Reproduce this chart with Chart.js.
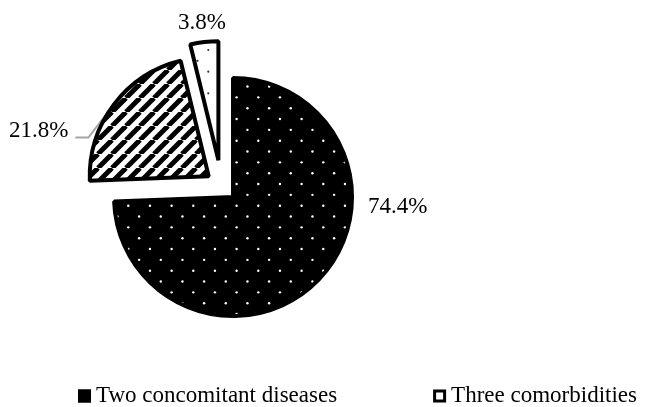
<!DOCTYPE html>
<html>
<head>
<meta charset="utf-8">
<style>
  html, body { margin: 0; padding: 0; background: #fff; }
  #wrap { width: 645px; height: 407px; position: relative; }
</style>
<script src="https://cdn.jsdelivr.net/npm/chart.js@4.4.1/dist/chart.umd.min.js"></script>
</head>
<body>
<div id="wrap"><canvas id="c" width="645" height="407"></canvas></div>
<script>
// Share of patients by number of concurrent diseases (%)
const categories = ['Two concomitant diseases', 'Three comorbidities', 'Four or more comorbidities'];
const shares = [74.4, 21.8, 3.8];
// Only the first two categories appear in the legend row
const legendCount = 2;

// Styling
const FONT = '"Liberation Serif", "Times New Roman", serif';
const sliceExplode = [16, 16, 26];          // px each slice is pulled out along its bisector
const labelPolar = [[3.5, 165], [194.9, 176], [263.2, 138.5]]; // [deg, px] from slice tip
const leaderSlices = [1];

const canvas = document.getElementById('c');
const ctx = canvas.getContext('2d');

function dotPattern(bg, fg, ox, oy, r) {
  const p = 65, step = p / 3;
  const c = document.createElement('canvas');
  c.width = p; c.height = p;
  const g = c.getContext('2d');
  g.fillStyle = bg; g.fillRect(0, 0, p, p);
  g.fillStyle = fg;
  for (let i = -1; i <= 3; i++) {
    for (let j = -1; j <= 3; j++) {
      for (const [sx, sy] of [[0, 0], [step / 2, step / 2]]) {
        const x = ox + sx + i * step, y = oy + sy + j * step;
        g.beginPath(); g.arc(x, y, r, 0, Math.PI * 2); g.fill();
      }
    }
  }
  return ctx.createPattern(c, 'repeat');
}

function stripePattern() {
  const s = 14;
  const c = document.createElement('canvas');
  c.width = s; c.height = s;
  const g = c.getContext('2d');
  g.fillStyle = '#fff'; g.fillRect(0, 0, s, s);
  g.strokeStyle = '#000'; g.lineWidth = 5;
  for (const k of [-1, 0, 1]) {
    g.beginPath(); g.moveTo(k * s, s); g.lineTo(k * s + s, 0); g.stroke();
  }
  return ctx.createPattern(c, 'repeat');
}

const fills = [
  dotPattern('#000', '#fff', 19.95, 10.7, 1.2),
  stripePattern(),
  dotPattern('#fff', '#333', 13.3, 6.67, 1.1)
];

const pctText = v => v.toFixed(1) + '%';

// Pull slices apart along their bisectors
const explodePlugin = {
  id: 'explode',
  afterDatasetUpdate(chart, args) {
    const a = chart.chartArea;
    const cx = (a.left + a.right) / 2, cy = (a.top + a.bottom) / 2;
    args.meta.data.forEach((arc, i) => {
      const mid = (arc.startAngle + arc.endAngle) / 2;
      const d = sliceExplode[i] || 0;
      arc.x = cx + Math.cos(mid) * d;
      arc.y = cy + Math.sin(mid) * d;
    });
  }
};

function labelPos(arc, i) {
  const [deg, dist] = labelPolar[i];
  const t = deg * Math.PI / 180;
  return [arc.x + Math.cos(t) * dist, arc.y + Math.sin(t) * dist];
}

// Percentage labels with leader lines
const labelPlugin = {
  id: 'sliceLabels',
  beforeDatasetsDraw(chart) {
    const c = chart.ctx;
    const arcs = chart.getDatasetMeta(0).data;
    c.save();
    c.font = '23px ' + FONT;
    c.strokeStyle = '#a6a6a6';
    c.lineWidth = 2;
    leaderSlices.forEach(i => {
      const arc = arcs[i];
      const [lx, ly] = labelPos(arc, i);
      const w = c.measureText(pctText(shares[i])).width;
      const mid = (arc.startAngle + arc.endAngle) / 2;
      const ex = arc.x + Math.cos(mid) * arc.outerRadius;
      const ey = arc.y + Math.sin(mid) * arc.outerRadius;
      const y0 = ly + 6.5;
      c.beginPath();
      c.moveTo(lx + w / 2 + 7, y0);
      c.lineTo(lx + w / 2 + 20, y0);
      c.lineTo(ex, ey);
      c.stroke();
    });
    c.restore();
  },
  afterDatasetsDraw(chart) {
    const c = chart.ctx;
    const arcs = chart.getDatasetMeta(0).data;
    c.save();
    c.font = '23px ' + FONT;
    c.fillStyle = '#000';
    c.textAlign = 'center';
    c.textBaseline = 'middle';
    arcs.forEach((arc, i) => {
      const [lx, ly] = labelPos(arc, i);
      c.fillText(pctText(shares[i]), lx, ly);
    });
    c.restore();
  }
};

// Legend row along the bottom
const legendPlugin = {
  id: 'legendRow',
  afterDraw(chart) {
    const c = chart.ctx;
    c.save();
    c.font = '23px ' + FONT;
    c.textAlign = 'left';
    c.textBaseline = 'middle';
    let x = 78;
    const y = 396;
    const box = 13, gap = 5, itemGap = 96;
    categories.slice(0, legendCount).forEach((label, i) => {
      c.fillStyle = i === 0 ? '#000' : '#fff';
      c.fillRect(x, y - box / 2, box, box);
      c.strokeStyle = '#000';
      c.lineWidth = 3;
      c.strokeRect(x + 1.5, y - box / 2 + 1.5, box - 3, box - 3);
      c.fillStyle = '#000';
      c.fillText(label, x + box + gap, y);
      x += box + gap + c.measureText(label).width + itemGap;
    });
    c.restore();
  }
};

new Chart(ctx, {
  type: 'pie',
  data: {
    labels: categories,
    datasets: [{
      data: shares,
      backgroundColor: fills,
      borderColor: '#000',
      borderWidth: 4,
      radius: 119,
      hoverOffset: 0
    }]
  },
  options: {
    responsive: false,
    animation: false,
    events: [],
    layout: { padding: { left: 0, right: 202, top: 0, bottom: 35 } },
    plugins: {
      legend: { display: false },
      tooltip: { enabled: false }
    }
  },
  plugins: [explodePlugin, labelPlugin, legendPlugin]
});
</script>
</body>
</html>
